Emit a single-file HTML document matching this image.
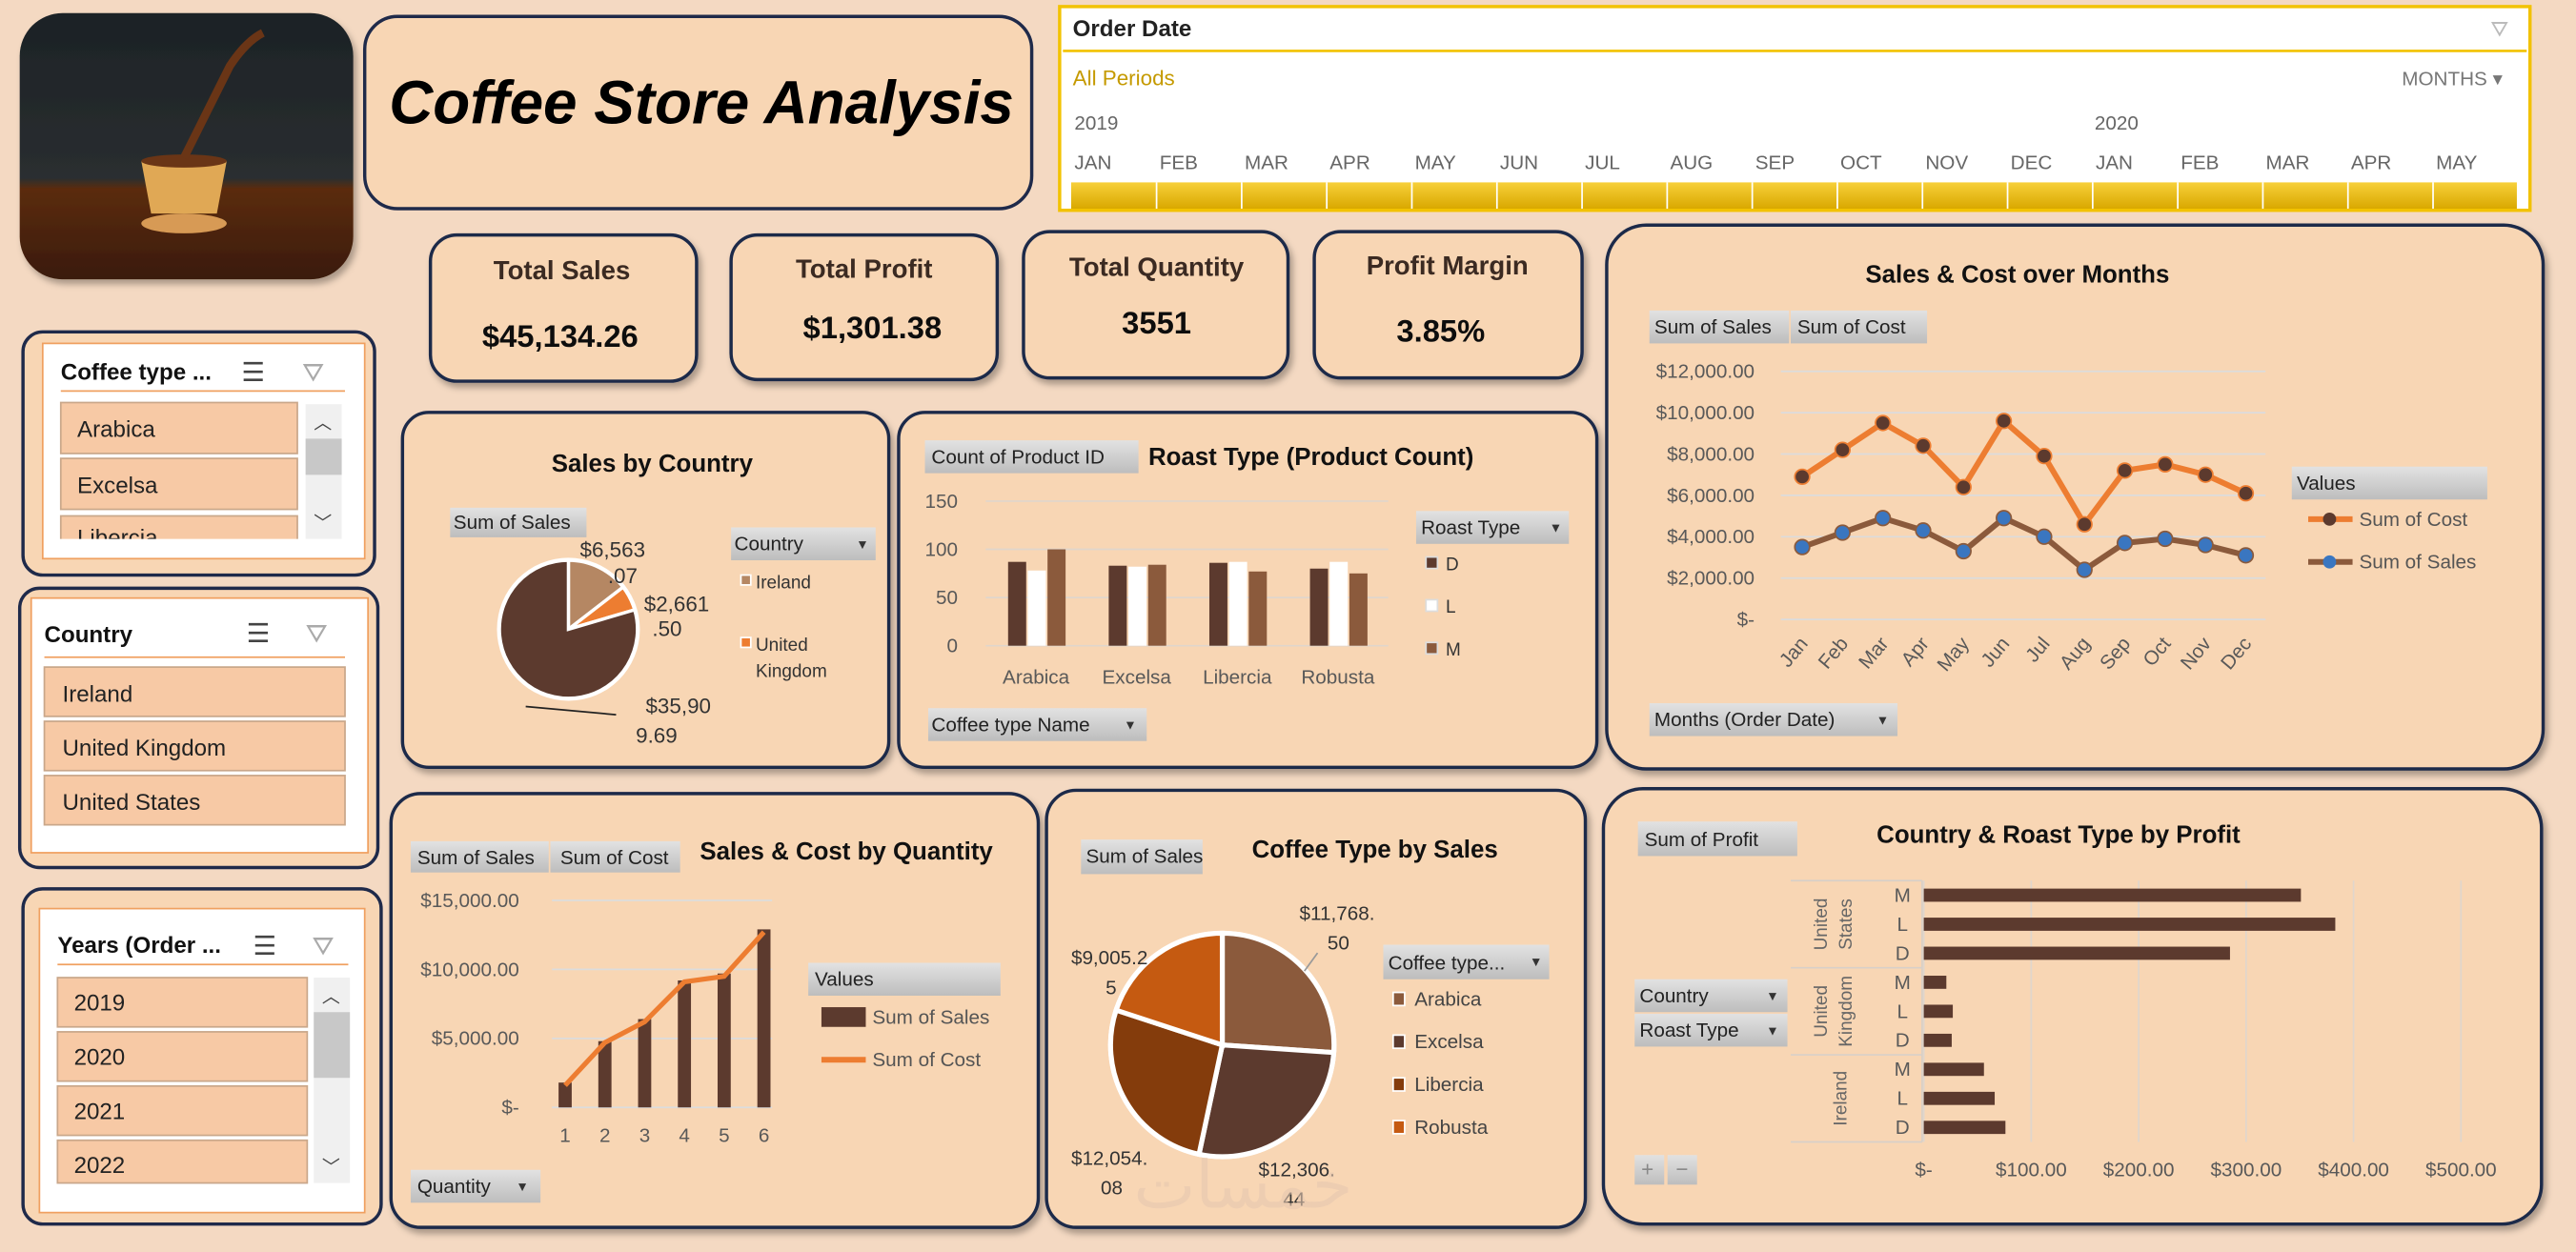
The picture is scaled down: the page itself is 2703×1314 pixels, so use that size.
<!DOCTYPE html>
<html><head><meta charset="utf-8"><title>Coffee Store Analysis</title>
<style>
html,body{margin:0;padding:0;background:#f4d9c2;}
body{width:2703px;height:1314px;overflow:hidden;}
svg{display:block;font-family:"Liberation Sans",sans-serif;}
.t{font-family:"Liberation Sans",sans-serif;}
.ax{fill:#595959;font-size:12px;}
.ttl{font-weight:bold;font-size:15px;fill:#111;}
.btn{fill:url(#gbtn);}
.bt{font-size:12px;fill:#222;}
</style></head>
<body>
<svg id="root" width="2703" height="1314" viewBox="0 0 1568 762" preserveAspectRatio="none" xmlns="http://www.w3.org/2000/svg">
<defs>
<linearGradient id="gbtn" x1="0" y1="0" x2="0" y2="1"><stop offset="0" stop-color="#e2e2e2"/><stop offset="1" stop-color="#bdbdbd"/></linearGradient>
<linearGradient id="gimg" x1="0" y1="0" x2="0" y2="1"><stop offset="0" stop-color="#1c2226"/><stop offset="0.62" stop-color="#2a2e30"/><stop offset="0.66" stop-color="#5b2c0e"/><stop offset="1" stop-color="#3a1a07"/></linearGradient>
<linearGradient id="gtl" x1="0" y1="0" x2="0" y2="1"><stop offset="0" stop-color="#f7d03a"/><stop offset="1" stop-color="#d9a800"/></linearGradient>
<filter id="sh" x="-5%" y="-5%" width="115%" height="120%"><feDropShadow dx="2" dy="3" stdDeviation="2" flood-color="#000" flood-opacity="0.3"/></filter>
</defs>
<rect width="1568" height="762" fill="#f4d9c2"/>

<!-- image -->
<g filter="url(#sh)">
<rect x="12" y="8" width="203" height="162" rx="26" fill="url(#gimg)"/>
<ellipse cx="112" cy="136" rx="26" ry="6" fill="#d79a55"/>
<path d="M86 98 L138 98 L132 130 L92 130 Z" fill="#e0a855"/>
<ellipse cx="112" cy="98" rx="26" ry="4" fill="#6b3413"/>
<path d="M112 96 Q125 70 140 40 Q150 25 160 20" stroke="#6b3413" stroke-width="5" fill="none"/>
</g>

<!-- title -->
<g>
<rect x="222" y="10" width="406" height="117" rx="20" fill="#f8d6b4" stroke="#1f2a4a" stroke-width="2"/>
<text x="427" y="75" text-anchor="middle" font-size="37" font-weight="bold" font-style="italic" fill="#000">Coffee Store Analysis</text>
</g>

<!-- timeline -->
<g>
<rect x="645" y="4" width="895" height="124" fill="#fff" stroke="#f2c200" stroke-width="2"/>
<line x1="647" y1="31" x2="1538" y2="31" stroke="#f2c200" stroke-width="1.5"/>
<text x="653" y="22" font-size="14" font-weight="bold" fill="#222">Order Date</text>
<text x="1516" y="22" font-size="13" fill="#bbb">⛛</text>
<text x="653" y="52" font-size="13" fill="#c59a00">All Periods</text>
<text x="1462" y="52" font-size="12" fill="#777">MONTHS ▾</text>
<text x="654" y="79" font-size="12" fill="#666">2019</text>
<text x="1275" y="79" font-size="12" fill="#666">2020</text>
<g id="tl" font-size="12" fill="#666"></g>
<rect x="652" y="111" width="880" height="16" fill="url(#gtl)"/>
</g>

<!-- KPIs -->
<g filter="url(#sh)"><rect x="262" y="143" width="162" height="89" rx="16" fill="#f8d6b4" stroke="#1f2a4a" stroke-width="2"/>
<text x="342" y="170" text-anchor="middle" font-size="16" font-weight="bold" fill="#3a2a20">Total Sales</text>
<text x="341" y="211" text-anchor="middle" font-size="19" font-weight="bold" fill="#111">$45,134.26</text></g>
<g filter="url(#sh)"><rect x="445" y="143" width="162" height="88" rx="16" fill="#f8d6b4" stroke="#1f2a4a" stroke-width="2"/>
<text x="526" y="169" text-anchor="middle" font-size="16" font-weight="bold" fill="#3a2a20">Total Profit</text>
<text x="531" y="206" text-anchor="middle" font-size="19" font-weight="bold" fill="#111">$1,301.38</text></g>
<g filter="url(#sh)"><rect x="623" y="141" width="161" height="89" rx="16" fill="#f8d6b4" stroke="#1f2a4a" stroke-width="2"/>
<text x="704" y="168" text-anchor="middle" font-size="16" font-weight="bold" fill="#3a2a20">Total Quantity</text>
<text x="704" y="203" text-anchor="middle" font-size="19" font-weight="bold" fill="#111">3551</text></g>
<g filter="url(#sh)"><rect x="800" y="141" width="163" height="89" rx="16" fill="#f8d6b4" stroke="#1f2a4a" stroke-width="2"/>
<text x="881" y="167" text-anchor="middle" font-size="16" font-weight="bold" fill="#3a2a20">Profit Margin</text>
<text x="877" y="208" text-anchor="middle" font-size="19" font-weight="bold" fill="#111">3.85%</text></g>

<!-- slicers -->
<g>
<rect x="14" y="202" width="214" height="148" rx="12" fill="#f8d6b4" stroke="#1f2a4a" stroke-width="2"/>
<rect x="26" y="209" width="196" height="131" fill="#fff" stroke="#f0a060"/>
<text x="37" y="231" font-size="14" font-weight="bold" fill="#111">Coffee type ...</text>
<text x="147" y="232" font-size="16" fill="#444">☰</text><text x="184" y="232" font-size="16" fill="#aaa">⛛</text>
<line x1="37" y1="238" x2="210" y2="238" stroke="#f0a060"/>
<rect x="186" y="246" width="22" height="82" fill="#f0f0f0"/><rect x="186" y="267" width="22" height="22" fill="#c8c8c8"/>
<text x="191" y="261" font-size="11" fill="#444">︿</text><text x="191" y="322" font-size="11" fill="#444">﹀</text>
<rect x="37" y="245" width="144" height="31" fill="#f7c9a5" stroke="#c9a78a"/><text x="47" y="266" font-size="14" fill="#222">Arabica</text>
<rect x="37" y="279" width="144" height="31" fill="#f7c9a5" stroke="#c9a78a"/><text x="47" y="300" font-size="14" fill="#222">Excelsa</text>
<clipPath id="c1"><rect x="30" y="312" width="180" height="16"/></clipPath>
<g clip-path="url(#c1)"><rect x="37" y="314" width="144" height="31" fill="#f7c9a5" stroke="#c9a78a"/><text x="47" y="332" font-size="14" fill="#222">Libercia</text></g>
</g>
<g>
<rect x="12" y="358" width="218" height="170" rx="12" fill="#f8d6b4" stroke="#1f2a4a" stroke-width="2"/>
<rect x="19" y="364" width="205" height="155" fill="#fff" stroke="#f0a060"/>
<text x="27" y="391" font-size="14" font-weight="bold" fill="#111">Country</text>
<text x="150" y="391" font-size="16" fill="#444">☰</text><text x="186" y="391" font-size="16" fill="#aaa">⛛</text>
<line x1="27" y1="400" x2="210" y2="400" stroke="#f0a060"/>
<rect x="27" y="406" width="183" height="30" fill="#f7c9a5" stroke="#c9a78a"/><text x="38" y="427" font-size="14" fill="#222">Ireland</text>
<rect x="27" y="439" width="183" height="30" fill="#f7c9a5" stroke="#c9a78a"/><text x="38" y="460" font-size="14" fill="#222">United Kingdom</text>
<rect x="27" y="472" width="183" height="30" fill="#f7c9a5" stroke="#c9a78a"/><text x="38" y="493" font-size="14" fill="#222">United States</text>
</g>
<g>
<rect x="14" y="541" width="218" height="204" rx="12" fill="#f8d6b4" stroke="#1f2a4a" stroke-width="2"/>
<rect x="24" y="553" width="198" height="185" fill="#fff" stroke="#f0a060"/>
<text x="35" y="580" font-size="14" font-weight="bold" fill="#111">Years (Order ...</text>
<text x="154" y="581" font-size="16" fill="#444">☰</text><text x="190" y="581" font-size="16" fill="#aaa">⛛</text>
<line x1="35" y1="587" x2="212" y2="587" stroke="#f0a060"/>
<rect x="191" y="595" width="22" height="125" fill="#f0f0f0"/><rect x="191" y="616" width="22" height="40" fill="#c8c8c8"/>
<text x="196" y="610" font-size="11" fill="#444">︿</text><text x="196" y="714" font-size="11" fill="#444">﹀</text>
<rect x="35" y="595" width="152" height="30" fill="#f7c9a5" stroke="#c9a78a"/><text x="45" y="615" font-size="14" fill="#222">2019</text>
<rect x="35" y="628" width="152" height="30" fill="#f7c9a5" stroke="#c9a78a"/><text x="45" y="648" font-size="14" fill="#222">2020</text>
<rect x="35" y="661" width="152" height="30" fill="#f7c9a5" stroke="#c9a78a"/><text x="45" y="681" font-size="14" fill="#222">2021</text>
<rect x="35" y="694" width="152" height="26" fill="#f7c9a5" stroke="#c9a78a"/><text x="45" y="714" font-size="14" fill="#222">2022</text>
</g>

<!-- chart panels -->
<g filter="url(#sh)">
<rect x="245" y="251" width="296" height="216" rx="16" fill="#f8d6b4" stroke="#1f2a4a" stroke-width="2"/>
<rect x="547" y="251" width="425" height="216" rx="16" fill="#f8d6b4" stroke="#1f2a4a" stroke-width="2"/>
<rect x="978" y="137" width="570" height="331" rx="24" fill="#f8d6b4" stroke="#1f2a4a" stroke-width="2"/>
<rect x="238" y="483" width="394" height="264" rx="18" fill="#f8d6b4" stroke="#1f2a4a" stroke-width="2"/>
<rect x="637" y="481" width="328" height="266" rx="18" fill="#f8d6b4" stroke="#1f2a4a" stroke-width="2"/>
<rect x="976" y="480" width="571" height="265" rx="24" fill="#f8d6b4" stroke="#1f2a4a" stroke-width="2"/>
</g>

<!-- Sales by country -->
<text x="397" y="287" text-anchor="middle" class="ttl" font-size="14">Sales by Country</text>
<rect x="274" y="309" width="83" height="18" class="btn"/><text x="276" y="322" class="bt">Sum of Sales</text>
<rect x="445" y="321" width="88" height="20" class="btn"/><text x="447" y="335" class="bt">Country</text><text x="521" y="334" font-size="8" fill="#333">▼</text>
<rect x="451" y="350" width="6" height="6" fill="#b58763" stroke="#fff"/><text x="460" y="358" font-size="11" fill="#333">Ireland</text>
<rect x="451" y="388" width="6" height="6" fill="#ed7d31" stroke="#fff"/><text x="460" y="396" font-size="11" fill="#333">United</text><text x="460" y="412" font-size="11" fill="#333">Kingdom</text>
<g id="pie1"></g>

<!-- Roast type -->
<rect x="563" y="268" width="130" height="20" class="btn"/><text x="567" y="282" class="bt">Count of Product ID</text>
<text x="699" y="283" class="ttl" font-size="14">Roast Type (Product Count)</text>
<rect x="862" y="311" width="93" height="20" class="btn"/><text x="865" y="325" class="bt">Roast Type</text><text x="943" y="324" font-size="8" fill="#333">▼</text>
<rect x="565" y="431" width="133" height="20" class="btn"/><text x="567" y="445" class="bt">Coffee type Name</text><text x="684" y="444" font-size="8" fill="#333">▼</text>
<g id="roast"></g>

<!-- Months -->
<text x="1228" y="172" text-anchor="middle" class="ttl">Sales &amp; Cost over Months</text>
<rect x="1004" y="189" width="85" height="20" class="btn"/><text x="1007" y="203" class="bt">Sum of Sales</text>
<rect x="1090" y="189" width="83" height="20" class="btn"/><text x="1094" y="203" class="bt">Sum of Cost</text>
<rect x="1004" y="428" width="151" height="20" class="btn"/><text x="1007" y="442" class="bt">Months (Order Date)</text><text x="1142" y="441" font-size="8" fill="#333">▼</text>
<rect x="1395" y="284" width="119" height="20" class="btn"/><text x="1398" y="298" class="bt">Values</text>
<g id="months"></g>

<!-- Quantity -->
<rect x="250" y="512" width="84" height="19" class="btn"/><text x="254" y="526" class="bt">Sum of Sales</text>
<rect x="335" y="512" width="79" height="19" class="btn"/><text x="341" y="526" class="bt">Sum of Cost</text>
<text x="426" y="523" class="ttl" font-size="14">Sales &amp; Cost by Quantity</text>
<rect x="492" y="586" width="117" height="20" class="btn"/><text x="496" y="600" class="bt">Values</text>
<rect x="250" y="712" width="79" height="20" class="btn"/><text x="254" y="726" class="bt">Quantity</text><text x="314" y="725" font-size="8" fill="#333">▼</text>
<g id="qty"></g>

<!-- Coffee type pie -->
<rect x="658" y="511" width="74" height="21" class="btn"/><text x="661" y="525" class="bt">Sum of Sales</text>
<text x="762" y="522" class="ttl" font-size="14">Coffee Type  by Sales</text>
<rect x="842" y="575" width="101" height="21" class="btn"/><text x="845" y="590" class="bt">Coffee type...</text><text x="931" y="588" font-size="8" fill="#333">▼</text>
<g id="pie2"></g>
<text x="690" y="735" font-size="40" fill="#e6c8b0" opacity="0.6" font-family="'Liberation Sans','Noto Sans CJK SC',sans-serif">خمسات</text>

<!-- Profit -->
<rect x="997" y="500" width="97" height="21" class="btn"/><text x="1001" y="515" class="bt">Sum of Profit</text>
<text x="1253" y="513" text-anchor="middle" class="ttl" font-size="14">Country &amp; Roast Type by Profit</text>
<rect x="995" y="596" width="93" height="20" class="btn"/><text x="998" y="610" class="bt">Country</text><text x="1075" y="609" font-size="8" fill="#333">▼</text>
<rect x="995" y="617" width="93" height="20" class="btn"/><text x="998" y="631" class="bt">Roast Type</text><text x="1075" y="630" font-size="8" fill="#333">▼</text>
<rect x="995" y="703" width="18" height="18" class="btn"/><text x="999" y="716" font-size="13" fill="#888">+</text>
<rect x="1015" y="703" width="18" height="18" class="btn"/><text x="1020" y="716" font-size="13" fill="#888">−</text>
<g id="profit"></g>
</svg>
<script>
// ---- data ----
var tlMonths=["JAN","FEB","MAR","APR","MAY","JUN","JUL","AUG","SEP","OCT","NOV","DEC","JAN","FEB","MAR","APR","MAY"];
var countryNames=["Ireland","United Kingdom","United States"];
var countrySales=[6563.07,2661.50,35909.69];
var countryLabels=["$6,563",".07","$2,661",".50","$35,90","9.69"];
var roastCoffee=["Arabica","Excelsa","Libercia","Robusta"];
var roastD=[87,83,86,80];
var roastL=[78,82,87,87];
var roastM=[100,84,77,75];
var roastTicks=[0,50,100,150];
var roastTypes=["D","L","M"];
var monthNames=["Jan","Feb","Mar","Apr","May","Jun","Jul","Aug","Sep","Oct","Nov","Dec"];
var monthCost=[6900,8200,9500,8400,6400,9600,7900,4600,7200,7500,7000,6100];
var monthSales=[3500,4200,4900,4300,3300,4900,4000,2400,3700,3900,3600,3100];
var monthTicks=[0,2000,4000,6000,8000,10000,12000];
var monthTickLabels=["$-","$2,000.00","$4,000.00","$6,000.00","$8,000.00","$10,000.00","$12,000.00"];
var qtyCats=[1,2,3,4,5,6];
var qtySales=[1800,4800,6400,9200,9700,12900];
var qtyCost=[1600,4700,6200,9100,9500,12700];
var qtyTicks=[0,5000,10000,15000];
var qtyTickLabels=["$-","$5,000.00","$10,000.00","$15,000.00"];
var coffeeNames=["Arabica","Excelsa","Libercia","Robusta"];
var coffeeSales=[11768.50,12306.44,12054.08,9005.25];
var profitCountries=["United States","United Kingdom","Ireland"];
var profitRoasts=["M","L","D"];
var profitValues=[351,383,285,21,27,26,56,66,76];
var profitTicks=[0,100,200,300,400,500];
var profitTickLabels=["$-","$100.00","$200.00","$300.00","$400.00","$500.00"];

var NS="http://www.w3.org/2000/svg";
function mk(parent,tag,attrs,txt){var e=document.createElementNS(NS,tag);for(var k in attrs)e.setAttribute(k,attrs[k]);if(txt!==undefined)e.textContent=txt;parent.appendChild(e);return e;}

// timeline
(function(){var g=document.getElementById('tl');
for(var i=0;i<tlMonths.length;i++){var x=654+i*51.8;
var t=mk(g,'text',{x:x,y:103},tlMonths[i]);


var c=mk(document.getElementById('root'),'line',{x1:x+50,y1:111,x2:x+50,y2:127,stroke:'#fff','stroke-width':1});

}})();

function pie(gid,vals,colors,cx,cy,r,nameBase,sw){var g=document.getElementById(gid);var tot=vals.reduce(function(a,b){return a+b},0);var a0=-Math.PI/2;
mk(g,'circle',{cx:cx,cy:cy,r:r+1.5,fill:'#fff'});
for(var i=0;i<vals.length;i++){var a1=a0+vals[i]/tot*2*Math.PI;
var x0=cx+r*Math.cos(a0),y0=cy+r*Math.sin(a0),x1=cx+r*Math.cos(a1),y1=cy+r*Math.sin(a1);
var p=mk(g,'path',{d:'M'+cx+' '+cy+' L'+x0+' '+y0+' A'+r+' '+r+' 0 '+((a1-a0)>Math.PI?1:0)+' 1 '+x1+' '+y1+' Z',fill:colors[i],stroke:'#fff','stroke-width':sw});


a0=a1;}return g;}

// pie1
(function(){var g=pie('pie1',countrySales,['#b58763','#ed7d31','#5c3a2e'],346,383,42,'country-sales',2);
var L=[[353,339],[370,355],[392,372],[397,387],[393,434],[387,452]];
for(var i=0;i<countryLabels.length;i++){var t=mk(g,'text',{x:L[i][0],y:L[i][1],'font-size':13,fill:'#333'},countryLabels[i]);

}
mk(g,'line',{x1:320,y1:430,x2:375,y2:435,stroke:'#222','stroke-width':1});})();

// roast bars
(function(){var g=document.getElementById('roast');var y0=393,yTop=305,x0=600,x1=845;
function Y(v){return y0-(v-0)/(150-0)*(y0-yTop);}
for(var i=0;i<roastTicks.length;i++){var y=Y(roastTicks[i]);mk(g,'line',{x1:x0,y1:y,x2:x1,y2:y,stroke:'#e0d6cc'});
var t=mk(g,'text',{x:583,y:y+4,'text-anchor':'end',class:'ax'},roastTicks[i]);

}
var series=[roastD,roastL,roastM],cols=['#5c3a2e','#ffffff','#8b5a3c'];var gw=(x1-x0)/roastCoffee.length;
for(var c=0;c<roastCoffee.length;c++){var cx=x0+gw*(c+0.5);
for(var s=0;s<3;s++){var bx=cx-17+s*12;var b=mk(g,'rect',{x:bx,y:Y(series[s][c]),width:11,height:y0-Y(series[s][c]),fill:cols[s]});

}
var t=mk(g,'text',{x:cx,y:416,'text-anchor':'middle',class:'ax'},roastCoffee[c]);

}
for(var s=0;s<3;s++){mk(g,'rect',{x:868,y:339+s*26,width:7,height:7,fill:cols[s],stroke:'#ddd'});
var t=mk(g,'text',{x:880,y:347+s*26,'font-size':11,fill:'#333'},roastTypes[s]);

}})();

// months line
(function(){var g=document.getElementById('months');var y0=377,yTop=226,xl=1084,xr=1379;
function Y(v){return y0-v/12000*(y0-yTop);}function X(i){return 1097+i*(1367-1097)/(monthNames.length-1);}
for(var i=0;i<monthTicks.length;i++){var y=Y(monthTicks[i]);mk(g,'line',{x1:xl,y1:y,x2:xr,y2:y,stroke:'#dcdcdc'});
var t=mk(g,'text',{x:1068,y:y+4,'text-anchor':'end',class:'ax'},monthTickLabels[i]);

}
function series(vals,lc,mc,name){var d='';for(var i=0;i<vals.length;i++)d+=(i?'L':'M')+X(i)+' '+Y(vals[i]);
var p=mk(g,'path',{d:d,stroke:lc,'stroke-width':3.5,fill:'none','stroke-linejoin':'round'});


for(var i=0;i<vals.length;i++){var c=mk(g,'circle',{cx:X(i),cy:Y(vals[i]),r:4.5,fill:mc,stroke:lc,'stroke-width':1});

}}
series(monthCost,'#ed7d31','#5c3a2e','cost');series(monthSales,'#8b5a3c','#3a76c0','sales');
for(var i=0;i<monthNames.length;i++){var t=mk(g,'text',{x:X(i)+4,y:392,'text-anchor':'end',class:'ax',transform:'rotate(-50 '+(X(i)+4)+' 392)'},monthNames[i]);

}
var lg=[['Sum of Cost','#ed7d31','#5c3a2e',316],['Sum of Sales','#8b5a3c','#3a76c0',342]];
for(var i=0;i<2;i++){mk(g,'line',{x1:1405,y1:lg[i][3],x2:1432,y2:lg[i][3],stroke:lg[i][1],'stroke-width':3.5});mk(g,'circle',{cx:1418,cy:lg[i][3],r:4,fill:lg[i][2]});
var t=mk(g,'text',{x:1436,y:lg[i][3]+4,'font-size':12,fill:'#555'},lg[i][0]);

}})();

// quantity
(function(){var g=document.getElementById('qty');var y0=674,yTop=548,xl=336,xr=470;
function Y(v){return y0-v/15000*(y0-yTop);}function X(i){return 344+i*24.2;}
for(var i=0;i<qtyTicks.length;i++){var y=Y(qtyTicks[i]);mk(g,'line',{x1:xl,y1:y,x2:xr,y2:y,stroke:'#dcdcdc'});
var t=mk(g,'text',{x:316,y:y+4,'text-anchor':'end',class:'ax'},qtyTickLabels[i]);

}
for(var i=0;i<qtyCats.length;i++){var b=mk(g,'rect',{x:X(i)-4,y:Y(qtySales[i]),width:8,height:y0-Y(qtySales[i]),fill:'#5c3a2e'});


var t=mk(g,'text',{x:X(i),y:695,'text-anchor':'middle',class:'ax'},qtyCats[i]);

}
var d='';for(var i=0;i<qtyCost.length;i++)d+=(i?'L':'M')+X(i)+' '+Y(qtyCost[i]);
var p=mk(g,'path',{d:d,stroke:'#ed7d31','stroke-width':3,fill:'none'});


mk(g,'rect',{x:500,y:613,width:27,height:12,fill:'#5c3a2e'});
var t1=mk(g,'text',{x:531,y:623,'font-size':12,fill:'#555'},'Sum of Sales');


mk(g,'line',{x1:500,y1:645,x2:527,y2:645,stroke:'#ed7d31','stroke-width':3.5});
var t2=mk(g,'text',{x:531,y:649,'font-size':12,fill:'#555'},'Sum of Cost');

})();

// pie2
(function(){var cols=['#8b5a3c','#5c3a2e','#843c0c','#c55a11'];var g=pie('pie2',coffeeSales,cols,744,636,68,'coffee-sales',3);
var L=[['$11,768.',791,560],['50',808,578],['$12,306.',766,716],['44',781,734],['$12,054.',652,709],['08',670,727],['$9,005.2',652,587],['5',673,605]];
for(var i=0;i<L.length;i++){var t=mk(g,'text',{x:L[i][1],y:L[i][2],'font-size':12,fill:'#333'},L[i][0]);

}
mk(g,'line',{x1:802,y1:580,x2:794,y2:591,stroke:'#999'});
for(var i=0;i<coffeeNames.length;i++){mk(g,'rect',{x:848,y:604+i*26,width:7,height:8,fill:cols[i],stroke:'#fff'});
var t=mk(g,'text',{x:861,y:612+i*26,'font-size':12,fill:'#444'},coffeeNames[i]);

}})();

// profit
(function(){var g=document.getElementById('profit');var x0=1171,x1=1498,yTop=536,yBot=695;
function X(v){return x0+v/500*(x1-x0);}var rh=(yBot-yTop)/profitValues.length;
for(var i=0;i<profitTicks.length;i++){var x=X(profitTicks[i]);mk(g,'line',{x1:x,y1:yTop,x2:x,y2:yBot,stroke:'#e0d6cc'});
var t=mk(g,'text',{x:x,y:716,'text-anchor':'middle',class:'ax'},profitTickLabels[i]);

}
for(var i=0;i<profitValues.length;i++){var cy=yTop+rh*(i+0.5);
var b=mk(g,'rect',{x:x0,y:cy-4,width:X(profitValues[i])-x0,height:8,fill:'#5c3a2e'});


var t=mk(g,'text',{x:1158,y:cy+4,'text-anchor':'middle',class:'ax'},profitRoasts[i%3]);

}
for(var c=0;c<profitCountries.length;c++){var ya=yTop+rh*3*c,yb=ya+rh*3;mk(g,'line',{x1:1090,y1:ya,x2:1170,y2:ya,stroke:'#d8d0c8'});
var cy=(ya+yb)/2;var words=profitCountries[c].split(' ');
for(var w=0;w<words.length;w++){var xx=1112+(words.length===1?12:w*15);
var t=mk(g,'text',{x:xx,y:cy,'text-anchor':'middle','font-size':11,fill:'#666',transform:'rotate(-90 '+xx+' '+cy+')'},words[w]);

}}
mk(g,'line',{x1:1090,y1:yBot,x2:1170,y2:yBot,stroke:'#d8d0c8'});
mk(g,'line',{x1:1170,y1:yTop,x2:1170,y2:yBot,stroke:'#d8d0c8'});})();
</script>
</body></html>
